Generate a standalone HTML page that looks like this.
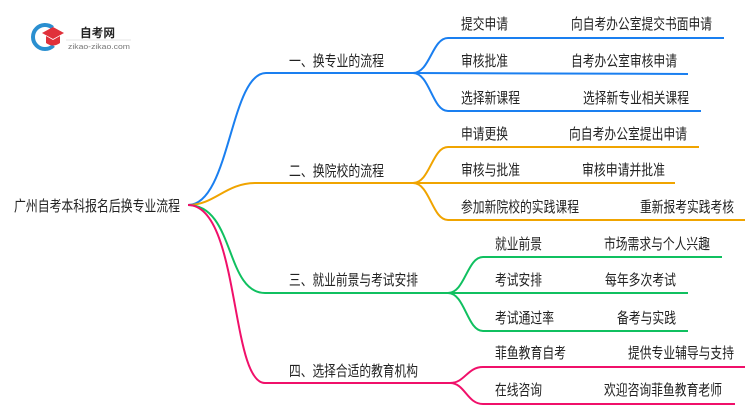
<!DOCTYPE html>
<html><head><meta charset="utf-8"><style>
html,body{margin:0;padding:0;background:#fff;width:750px;height:410px;overflow:hidden}
svg text{font-family:"Liberation Sans","Noto Sans CJK SC",sans-serif;fill:#222}
</style></head><body>
<svg width="750" height="410" viewBox="0 0 750 410" xmlns="http://www.w3.org/2000/svg">
<!-- logo -->
<circle cx="45" cy="37" r="12" fill="none" stroke="#2a8fd0" stroke-width="4" stroke-dasharray="55 20" transform="rotate(45 45 37)"/>
<path d="M42 33 L53 27 L64 33 L53 39 Z" fill="#e0303a"/>
<path d="M46 36 L46 43 Q53 48 60 43 L60 36 L53 40 Z" fill="#e0303a"/>
<text x="80" y="37" font-size="12" font-weight="bold" fill="#333" textLength="35" lengthAdjust="spacingAndGlyphs">自考网</text>
<line x1="66" y1="40" x2="131" y2="40" stroke="#ddd" stroke-width="0.8"/>
<text x="68" y="49" font-size="7.5" style="fill:#777" textLength="62" lengthAdjust="spacingAndGlyphs">zikao-zikao.com</text>

<g fill="none" stroke-width="2">
<g stroke="#1a7ff0">
<path d="M188 205 C230 205,230 73,266 73 L413 73"/>
<path d="M413 73 C430 73,432 38,448 38 L724 38"/>
<path d="M413 73 L688 74"/>
<path d="M413 73 C430 73,432 111,448 111 L701 111"/>
</g>
<g stroke="#f0a400">
<path d="M188 205 C215 205,225 183,256 183 L413 183"/>
<path d="M413 183 C430 183,432 147,448 147 L699 147"/>
<path d="M413 183 L675 183"/>
<path d="M413 183 C430 183,432 220,448 220 L745 220"/>
</g>
<g stroke="#10c060">
<path d="M188 205 C235 205,225 293,265 293 L448 293"/>
<path d="M448 293 C465 293,467 257,483 257 L722 257"/>
<path d="M448 293 L688 293"/>
<path d="M448 293 C465 293,467 331,483 331 L688 331"/>
</g>
<g stroke="#f0106a">
<path d="M188 205 C240 205,230 383,265 383 L450 383"/>
<path d="M450 383 C465 383,467 367,483 367 L745 367"/>
<path d="M450 383 C465 383,467 404,483 404 L735 404"/>
</g>
</g>

<g font-size="15" lengthAdjust="spacingAndGlyphs">
<text x="14" y="211" textLength="166" lengthAdjust="spacingAndGlyphs">广州自考本科报名后换专业流程</text>
<text x="289" y="66" textLength="95" lengthAdjust="spacingAndGlyphs">一、换专业的流程</text>
<text x="289" y="176" textLength="95" lengthAdjust="spacingAndGlyphs">二、换院校的流程</text>
<text x="289" y="285" textLength="129" lengthAdjust="spacingAndGlyphs">三、就业前景与考试安排</text>
<text x="289" y="376" textLength="129" lengthAdjust="spacingAndGlyphs">四、选择合适的教育机构</text>

<text x="461" y="29" textLength="47" lengthAdjust="spacingAndGlyphs">提交申请</text><text x="571" y="29" textLength="141" lengthAdjust="spacingAndGlyphs">向自考办公室提交书面申请</text>
<text x="461" y="66" textLength="47" lengthAdjust="spacingAndGlyphs">审核批准</text><text x="571" y="66" textLength="106" lengthAdjust="spacingAndGlyphs">自考办公室审核申请</text>
<text x="461" y="103" textLength="59" lengthAdjust="spacingAndGlyphs">选择新课程</text><text x="583" y="103" textLength="106" lengthAdjust="spacingAndGlyphs">选择新专业相关课程</text>

<text x="461" y="139" textLength="47" lengthAdjust="spacingAndGlyphs">申请更换</text><text x="569" y="139" textLength="118" lengthAdjust="spacingAndGlyphs">向自考办公室提出申请</text>
<text x="461" y="175" textLength="59" lengthAdjust="spacingAndGlyphs">审核与批准</text><text x="582" y="175" textLength="83" lengthAdjust="spacingAndGlyphs">审核申请并批准</text>
<text x="461" y="212" textLength="118" lengthAdjust="spacingAndGlyphs">参加新院校的实践课程</text><text x="640" y="212" textLength="94" lengthAdjust="spacingAndGlyphs">重新报考实践考核</text>

<text x="495" y="249" textLength="47" lengthAdjust="spacingAndGlyphs">就业前景</text><text x="604" y="249" textLength="106" lengthAdjust="spacingAndGlyphs">市场需求与个人兴趣</text>
<text x="495" y="285" textLength="47" lengthAdjust="spacingAndGlyphs">考试安排</text><text x="605" y="285" textLength="71" lengthAdjust="spacingAndGlyphs">每年多次考试</text>
<text x="495" y="323" textLength="59" lengthAdjust="spacingAndGlyphs">考试通过率</text><text x="617" y="323" textLength="59" lengthAdjust="spacingAndGlyphs">备考与实践</text>

<text x="495" y="358" textLength="71" lengthAdjust="spacingAndGlyphs">菲鱼教育自考</text><text x="628" y="358" textLength="106" lengthAdjust="spacingAndGlyphs">提供专业辅导与支持</text>
<text x="495" y="395" textLength="47" lengthAdjust="spacingAndGlyphs">在线咨询</text><text x="604" y="395" textLength="118" lengthAdjust="spacingAndGlyphs">欢迎咨询菲鱼教育老师</text>
</g>
</svg>
</body></html>
